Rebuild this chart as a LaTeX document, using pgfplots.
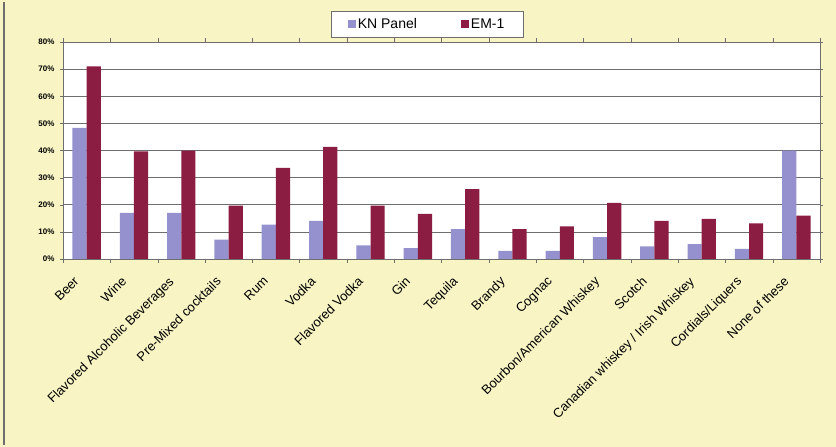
\documentclass[border=0pt]{standalone}
\usepackage{pgfplots}
\pgfplotsset{compat=1.18}
\usepackage{fontspec}
\setmainfont{Liberation Sans}
\definecolor{bgy}{HTML}{F8F4C4}
\definecolor{kn}{HTML}{9591CF}
\definecolor{em}{HTML}{8C1D42}
\definecolor{gridc}{HTML}{6E6E6E}
\begin{document}
\begin{tikzpicture}
\fill[bgy] (0pt,0pt) rectangle (836pt,447pt);
\draw[gridc, line width=1.2pt] (4pt,2pt) -- (4pt,445pt);
\begin{axis}[at={(63pt,188pt)}, anchor=south west, scale only axis,
  width=757pt, height=217pt,
  ybar, bar width=0.3,
  ymin=0, ymax=80, xmin=-0.5, xmax=15.5,
  axis background/.style={fill=white},
  axis line style={gridc},
  ytick={0,10,...,80},
  yticklabel={\pgfmathprintnumber{\tick}\%},
  yticklabel style={/pgf/number format/assume math mode=true, font=\fontsize{8}{9}\selectfont\bfseries, xshift=-2pt},
  ymajorgrids, grid style={gridc, line width=0.6pt},
  xtick={0,...,15},
  xticklabels={Beer,Wine,Flavored Alcoholic Beverages,Pre-Mixed cocktails,Rum,Vodka,Flavored Vodka,Gin,Tequila,Brandy,Cognac,Bourbon/American Whiskey,Scotch,Canadian whiskey / Irish Whiskey,Cordials/Liquers,None of these},
  xticklabel style={rotate=45, anchor=north east, font=\fontsize{13}{15}\selectfont, inner sep=1pt, xshift=-18pt, yshift=1pt},
  major x tick style={draw=none},
  minor xtick={-0.5,0.5,...,15.5},
  minor x tick style={gridc},
  tick align=outside, major tick length=3pt, minor tick length=4pt,
  y tick style={gridc},
  legend style={at={(0.481,1.023)}, anchor=south, legend columns=2, draw=gridc, fill=white,
    font=\fontsize{14}{16}\selectfont, inner ysep=5pt, inner xsep=17pt,
    /tikz/every even column/.append style={column sep=42pt}},
  legend image code/.code={\fill[#1] (0pt,-4pt) rectangle (8pt,4pt);},
]
\addplot[fill=kn, draw=none, bar shift=-0.15] coordinates {
(0,48.3) (1,17) (2,17) (3,7.1) (4,12.7) (5,14.1) (6,5) (7,4) (8,11) (9,3) (10,3) (11,8.1) (12,4.7) (13,5.5) (14,3.7) (15,40)};
\addplot[fill=em, draw=none, bar shift=0.15] coordinates {
(0,71) (1,39.7) (2,40) (3,19.7) (4,33.6) (5,41.3) (6,19.7) (7,16.6) (8,25.8) (9,11) (10,12) (11,20.7) (12,14.1) (13,14.8) (14,13.1) (15,16)};
\legend{KN Panel,EM-1}
\end{axis}
\end{tikzpicture}
\end{document}
